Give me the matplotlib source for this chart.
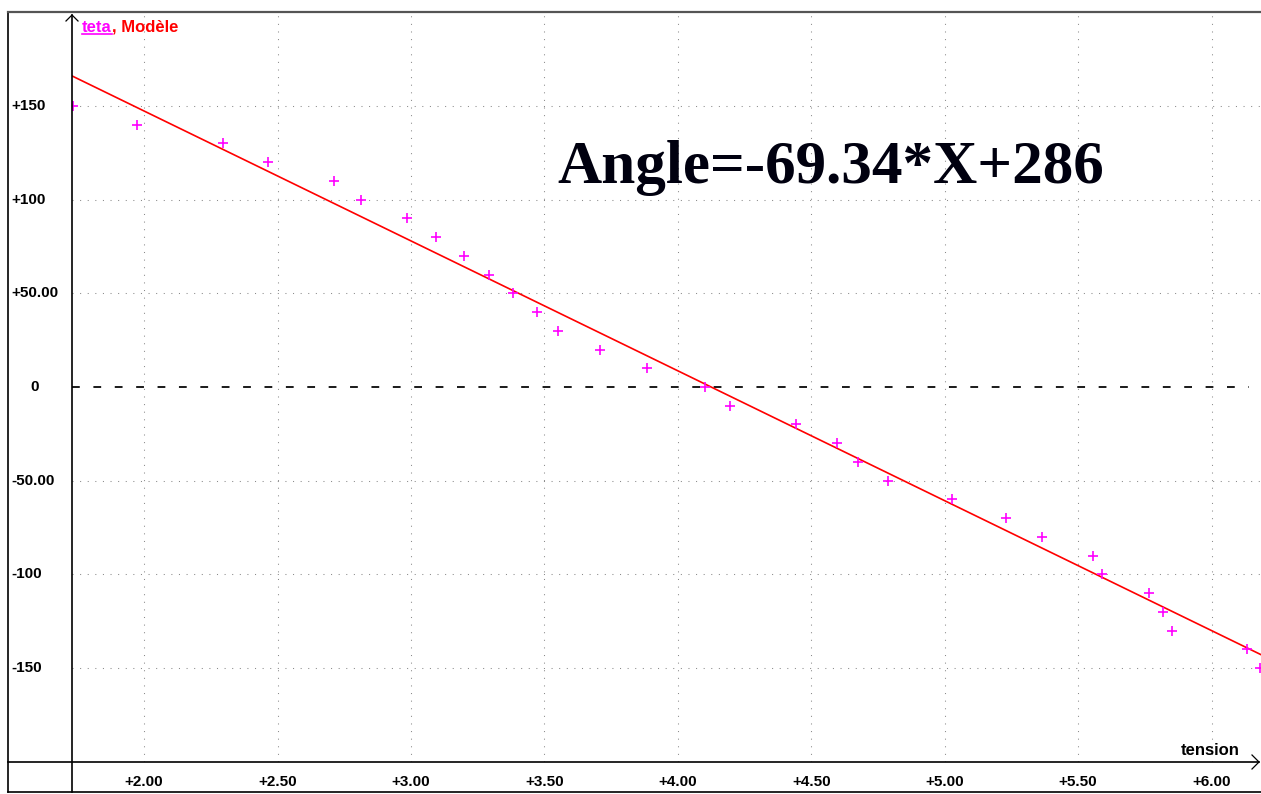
import numpy as np
import matplotlib.pyplot as plt
from matplotlib.lines import Line2D
from matplotlib import transforms

# measured points (tension in V, teta in degrees)
tension = [1.735, 1.973, 2.297, 2.466, 2.710, 2.812, 2.985, 3.095, 3.197, 3.294,
           3.381, 3.472, 3.550, 3.707, 3.886, 4.100, 4.197, 4.441, 4.597, 4.675,
           4.789, 5.029, 5.231, 5.363, 5.556, 5.591, 5.766, 5.818, 5.850, 6.131, 6.18]
teta = [150, 140, 130, 120, 110, 100, 90, 80, 70, 60,
        50, 40, 30, 20, 10, 0, -10, -20, -30, -40,
        -50, -60, -70, -80, -90, -100, -110, -120, -130, -140, -150]

# model: Angle = a*X + b
slope = -69.34
intercept = 286

x_ticks = [2.0, 2.5, 3.0, 3.5, 4.0, 4.5, 5.0, 5.5, 6.0]
x_labels = ['+2.00', '+2.50', '+3.00', '+3.50', '+4.00', '+4.50', '+5.00', '+5.50', '+6.00']
y_ticks = [150, 100, 50, 0, -50, -100, -150]
y_labels = ['+150', '+100', '+50.00', '0', '-50.00', '-100', '-150']

W, H = 1261, 794


def fx(px):
    return px / W


def fy(py):
    return 1 - py / H


fig = plt.figure(figsize=(W / 100, H / 100), dpi=100)
ax = fig.add_axes([fx(72), fy(761.7), fx(1261) - fx(72), fy(12.3) - fy(761.7)])
ax.set_xlim(1.73, 6.185)
ax.set_ylim(-200, 200)
for s in ax.spines.values():
    s.set_visible(False)
ax.set_xticks([])
ax.set_yticks([])

# dotted grid
for xt in x_ticks:
    ax.axvline(xt, color='#8a8a8a', lw=0.75, ls=(0, (1, 6.3)), zorder=1)
for yt in y_ticks:
    if yt != 0:
        ax.axhline(yt, color='#8a8a8a', lw=0.75, ls=(0, (1, 6.3)), zorder=1)
ax.axhline(0, xmax=0.99, color='#1a1a1a', lw=1.4, ls=(0, (4, 7)), zorder=1)

# model line
xm = np.array(ax.get_xlim())
ax.plot(xm, slope * xm + intercept, color='#ff0000', lw=1.2, zorder=2)

# data
ax.plot(tension, teta, ls='none', marker='+', ms=7, mew=1.2, color='#ff00ff', zorder=3)

# equation
ax.text(3.55, 109, 'Angle=-69.34*X+286', family='Liberation Serif', weight='bold',
        fontsize=44, color='#00000f', ha='left', va='baseline', zorder=4)

bold = dict(family='Liberation Sans', weight='bold')

# tick labels
for xt, lab in zip(x_ticks, x_labels):
    ax.text(xt, -207, lab, fontsize=11, ha='center', va='top', clip_on=False, **bold)
tr = transforms.blended_transform_factory(fig.transFigure, ax.transData)
for yt, lab in zip(y_ticks, y_labels):
    xpos = fx(30) if lab == '0' else fx(11)
    ax.text(xpos, yt, lab, fontsize=11, ha='left', va='center', transform=tr, **bold)

fig.text(fx(1240), fy(755), 'tension', fontsize=12, ha='right', va='baseline', **bold)

# legend label "teta, Modèle" with underlined teta
t1 = fig.text(fx(82), fy(32), 'teta', fontsize=12, color='#ff00ff', ha='left', va='baseline', **bold)
fig.canvas.draw()
bb = t1.get_window_extent()
fig.add_artist(Line2D([bb.x0 / W, bb.x1 / W], [fy(34), fy(34)], color='#ff00ff', lw=1.2))
fig.text(bb.x1 / W, fy(32), ', Modèle', fontsize=12, color='#ff0000', ha='left', va='baseline', **bold)

# frame and axes with arrows
frame = dict(color='black', lw=1.2)
fig.add_artist(Line2D([fx(8), fx(8)], [fy(12), fy(792)], **frame))
fig.add_artist(Line2D([fx(8), fx(1261)], [fy(12), fy(12)], color='#555555', lw=1.6))
fig.add_artist(Line2D([fx(8), fx(1261)], [fy(792), fy(792)], **frame))
fig.add_artist(Line2D([fx(8), fx(1259)], [fy(762), fy(762)], **frame))
fig.add_artist(Line2D([fx(72), fx(72)], [fy(792), fy(15)], **frame))
fig.add_artist(Line2D([fx(1252), fx(1259), fx(1252)], [fy(755), fy(762), fy(769)], color='black', lw=0.9))
fig.add_artist(Line2D([fx(66), fx(72), fx(78)], [fy(21), fy(15), fy(21)], color='black', lw=0.9))

fig.savefig('out.png', dpi=100, facecolor='white')
